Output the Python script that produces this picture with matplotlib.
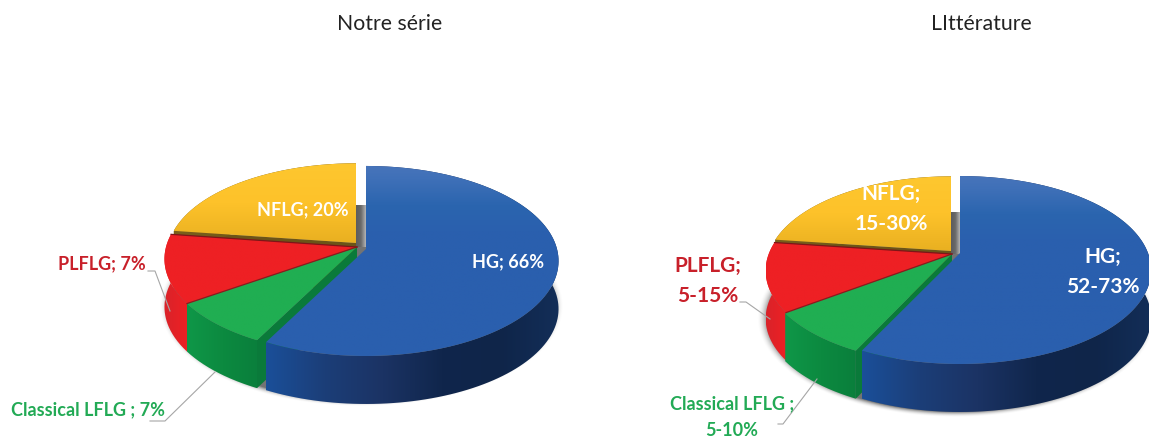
import numpy as np
import matplotlib
matplotlib.use("Agg")
import matplotlib.pyplot as plt
from matplotlib.colors import LinearSegmentedColormap
from matplotlib.patches import PathPatch, Polygon
from matplotlib.path import Path

# parts des secteurs (ordre: sens horaire depuis midi)
categories = ["HG", "Classical LFLG", "PLFLG", "NFLG"]
serie_shares = [57.7, 7.8, 11.7, 22.8]
litt_shares = [57.2, 7.8, 12.1, 22.9]

serie_title = "Notre série"
litt_title = "LIttérature"
serie_labels = ["HG; 66%", "Classical LFLG ; 7%", "PLFLG; 7%", "NFLG; 20%"]
litt_labels = ["HG;\n52-73%", "Classical LFLG ;\n5-10%", "PLFLG;\n5-15%", "NFLG;\n15-30%"]

W, H = 1149, 439
DEPTH = 48

TOP_COLORS = {
    "HG": ["#5079bd", "#3f70b8", "#2b65af", "#2a60ae", "#2a5fae"],
    "Classical LFLG": ["#20ae52", "#20ae52"],
    "PLFLG": ["#ee2024", "#ee2024"],
    "NFLG": ["#fec72f", "#fdc22a", "#e9b021"],
}
WALL_COLORS = {
    "HG": ["#1a4f99", "#1c3e78", "#1b3364", "#10264c", "#0f2549", "#132e58"],
    "Classical LFLG": ["#0f9748", "#0c8a40", "#0a7f3c"],
    "PLFLG": ["#d9232a", "#ee2024"],
    "NFLG": ["#7a5f1c", "#5f4a17"],
}
LABEL_COLORS = ["white", "#22aa55", "#c8202a", "white"]


def project(theta, geo, name):
    # disque vu en perspective, theta en degres depuis midi
    t = np.radians(theta)
    off = geo["off"][name]
    sx, sy = geo["scale"].get(name, (1, 1))
    w = 1 + geo["k"] * np.cos(t)
    x = geo["cx"] + off[0] + sx * geo["rx"] * np.sin(t) / w
    y = geo["cy"] + off[1] - sy * geo["ry"] * np.cos(t) / w
    return np.column_stack([x, y])


def gradient_fill(ax, verts, colors, vertical=True, span=None, zorder=2):
    cmap = LinearSegmentedColormap.from_list("g", colors)
    verts = np.asarray(verts)
    x0, x1 = verts[:, 0].min(), verts[:, 0].max()
    y0, y1 = verts[:, 1].min(), verts[:, 1].max()
    ramp = np.linspace(0, 1, 256)
    if span is not None:
        lo, hi = span
        pos = np.linspace(y0, y1, 256) if vertical else np.linspace(x0, x1, 256)
        ramp = np.clip((pos - lo) / (hi - lo), 0, 1)
    data = ramp[:, None] if vertical else ramp[None, :]
    im = ax.imshow(data, cmap=cmap, vmin=0, vmax=1, extent=(x0, x1, y1, y0),
                   origin="upper", aspect="auto", interpolation="bilinear", zorder=zorder)
    patch = PathPatch(Path(np.vstack([verts, verts[:1]])), transform=ax.transData,
                      fc="none", ec="none")
    ax.add_patch(patch)
    im.set_clip_path(patch)


def draw_shadow(ax, geo):
    xs = np.arange(geo["cx"] - 230, geo["cx"] + 250)
    ys = np.arange(geo["cy"] - 40, geo["cy"] + 190)
    xx, yy = np.meshgrid(xs, ys)
    down = geo["ry"] / (1 - geo["k"])
    up = geo["ry"] / (1 + geo["k"])
    ey = geo["cy"] + (down - up) / 2 + DEPTH - 1
    ry = (down + up) / 2
    ex = geo["cx"] + geo["off"]["HG"][0] / 2
    dist = (np.hypot((xx - ex) / geo["rx"], (yy - ey) / ry) - 1) * ry
    rgba = np.zeros(xx.shape + (4,))
    rgba[..., 3] = 0.55 * np.clip(1 - dist / 6, 0, 1) ** 2
    ax.imshow(rgba, extent=(xs[0], xs[-1], ys[-1], ys[0]), origin="upper",
              aspect="auto", zorder=1)


def draw_pie(ax, shares, geo):
    edges = np.concatenate([[0], np.cumsum(shares)]) / np.sum(shares) * 360
    arcs = {}
    for i, name in enumerate(categories):
        arcs[name] = np.linspace(edges[i], edges[i + 1], 120)

    draw_shadow(ax, geo)

    # murs
    for name in ["NFLG", "PLFLG", "Classical LFLG", "HG"]:
        off = geo["off"][name]
        arc = project(arcs[name], geo, name)
        band = np.vstack([arc, (arc + [0, DEPTH])[::-1]])
        apex = np.array([geo["cx"] + off[0], geo["cy"] + off[1]])
        if name == "NFLG":
            # face coupee sombre sous le bord jaune
            face = np.array([arc[0], apex, apex + [0, DEPTH], arc[0] + [0, DEPTH]])
            ax.add_patch(Polygon(face, fc="#6b5418", ec="none", zorder=2))
        if name == "Classical LFLG":
            face = np.array([arc[0], apex, apex + [0, DEPTH], arc[0] + [0, DEPTH]])
            ax.add_patch(Polygon(face, fc="#0a7a3a", ec="none", zorder=2))
        gradient_fill(ax, band, WALL_COLORS[name], vertical=False, zorder=2)

    # bande grise entre le jaune et le bleu
    x0 = geo["cx"] + geo["off"]["NFLG"][0]
    x1 = geo["cx"] + geo["off"]["HG"][0]
    y1 = geo["cy"]
    strip = np.array([[x0, y1 - geo["gap"]], [x1, y1 - geo["gap"]], [x1, y1], [x0, y1]])
    gradient_fill(ax, strip, ["#5c5c5c", "#6a6a6a", "#b5b5b5"], vertical=False, zorder=3)

    # dessus
    for name in ["NFLG", "PLFLG", "Classical LFLG", "HG"]:
        off = geo["off"][name]
        apex = np.array([[geo["cx"] + off[0], geo["cy"] + off[1]]])
        arc = project(arcs[name], geo, name)
        top = np.vstack([apex, arc])
        span = None
        if name == "HG":
            span = (geo["cy"] - geo["ry"], geo["cy"] + 10)
        gradient_fill(ax, top, TOP_COLORS[name], vertical=True, span=span, zorder=4)

    # filets sombres entre secteurs
    apex = np.array([geo["cx"], geo["cy"]])
    for i, color in [(2, "#8a1a1e"), (3, "#7d1518")]:
        p = project(np.array([edges[i]]), geo, "PLFLG")[0]
        ax.plot([apex[0], p[0]], [apex[1], p[1]], color=color, lw=0.9, zorder=5)


fig = plt.figure(figsize=(W / 100, H / 100), dpi=100)
ax = fig.add_axes([0, 0, 1, 1])
plt.rcParams["font.family"] = ["Lato", "DejaVu Sans"]

serie_geo = {"cx": 357, "cy": 248, "rx": 191, "ry": 93.5, "k": 0.126, "gap": 42,
             "off": {"HG": (9, 2), "Classical LFLG": (0, 0), "PLFLG": (0, 0), "NFLG": (-1, -4)},
             "scale": {"NFLG": (0.98, 0.96)}}
litt_geo = {"cx": 952, "cy": 255, "rx": 188, "ry": 90.9, "k": 0.181, "gap": 42,
            "off": {"HG": (8, -1), "Classical LFLG": (0, 0), "PLFLG": (0, 0), "NFLG": (-1, -3)},
            "scale": {"NFLG": (0.965, 0.97), "PLFLG": (0.975, 0.98),
                      "Classical LFLG": (0.98, 0.99)}}

draw_pie(ax, serie_shares, serie_geo)
draw_pie(ax, litt_shares, litt_geo)

# traits de rappel
leader = dict(color="#a6a6a6", lw=0.8, zorder=6)
ax.plot([148, 155, 170], [272, 272, 312], **leader)
ax.plot([150, 165, 215], [422, 422, 373], **leader)
ax.plot([740, 746, 770], [303, 303, 320], **leader)
ax.plot([778, 783, 817], [425, 425, 380], **leader)

ax.text(390, 24, serie_title, ha="center", va="center", fontsize=15.3, color="#222222")
ax.text(981, 24, litt_title, ha="center", va="center", fontsize=15.3, color="#222222")

serie_pos = [(508, 262), (88, 410), (102, 264), (303, 210)]
for label, pos, color in zip(serie_labels, serie_pos, LABEL_COLORS):
    ax.text(pos[0], pos[1], label, ha="center", va="center", fontsize=13,
            fontweight="bold", color=color, zorder=7)

litt_pos = [(1103, 272), (732, 417), (708, 281), (891, 209)]
litt_sizes = [15, 13, 15, 15]
litt_spacing = [1.65, 1.7, 1.65, 1.65]
for i, label in enumerate(litt_labels):
    ax.text(litt_pos[i][0], litt_pos[i][1], label, ha="center", va="center",
            fontsize=litt_sizes[i], fontweight="bold", color=LABEL_COLORS[i],
            linespacing=litt_spacing[i], zorder=7)

ax.set_xlim(0, W)
ax.set_ylim(H, 0)
ax.axis("off")
fig.savefig("out.png", dpi=100, facecolor="white")
